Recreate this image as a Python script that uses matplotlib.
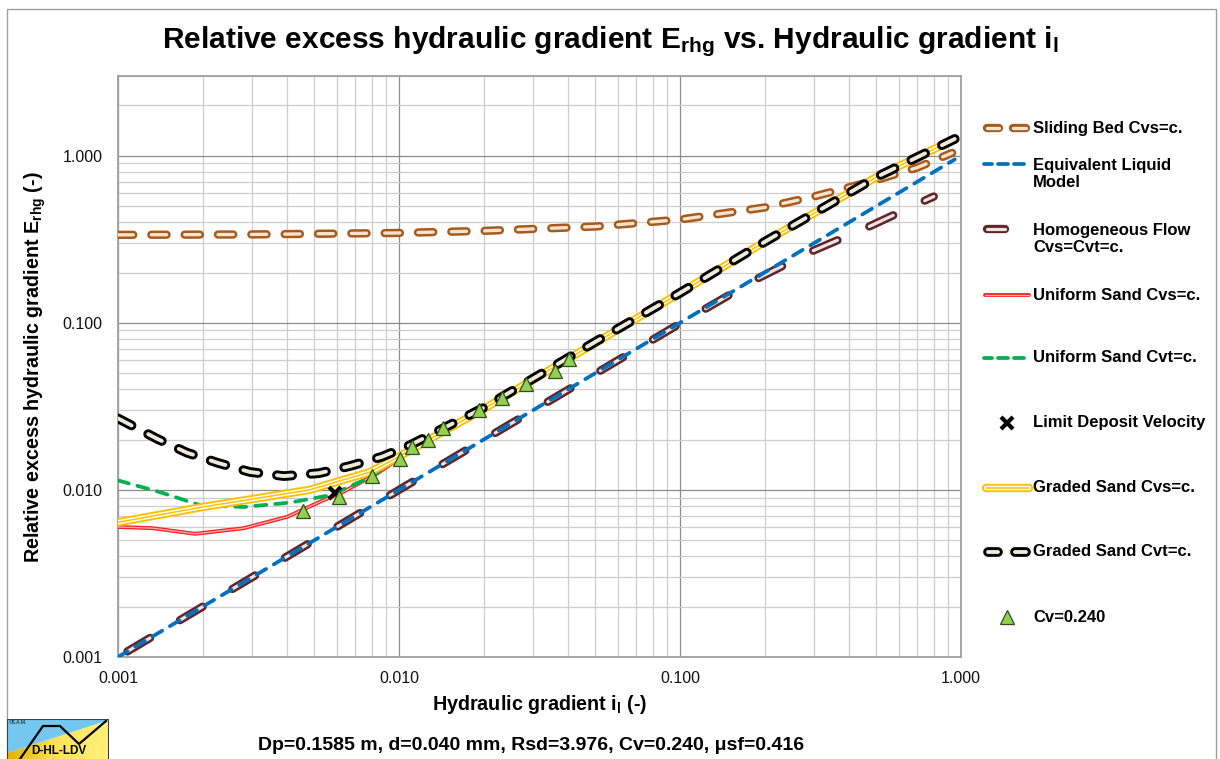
import numpy as np
import matplotlib
matplotlib.use("Agg")
import matplotlib.pyplot as plt
from matplotlib.patches import Rectangle, Polygon
from matplotlib.ticker import LogLocator, FixedLocator, FuncFormatter, NullFormatter
from matplotlib.colors import LinearSegmentedColormap

plt.rcParams['font.family'] = ['Liberation Sans', 'DejaVu Sans']
plt.rcParams['mathtext.fontset'] = 'custom'
plt.rcParams['mathtext.rm'] = 'Liberation Sans:bold'
plt.rcParams['mathtext.it'] = 'Liberation Sans:bold'
plt.rcParams['mathtext.bf'] = 'Liberation Sans:bold'
plt.rcParams['lines.scale_dashes'] = False

# ---------------- data ----------------
il_sb = [0.001, 0.003, 0.01, 0.02, 0.05, 0.1, 0.2, 0.3, 0.5, 0.7, 0.93]
erhg_sb = [0.336, 0.338, 0.345, 0.355, 0.377, 0.415, 0.49, 0.57, 0.715, 0.85, 1.04]

il_elm = [0.001, 0.95]
erhg_elm = [0.001, 0.95]

il_hom = [0.00108, 0.01, 0.1, 0.19, 0.29, 0.46, 0.71, 0.80]
erhg_hom = [0.00108, 0.01, 0.099, 0.185, 0.265, 0.37, 0.52, 0.57]

il_ucvs = [0.001, 0.00133, 0.00188, 0.0028, 0.0040, 0.0054, 0.0063, 0.0084, 0.0101,
           0.02, 0.05, 0.1, 0.2, 0.5, 0.95]
erhg_ucvs = [0.0060, 0.0059, 0.00546, 0.0059, 0.0069, 0.0087, 0.0097, 0.0126, 0.0156,
             0.0303, 0.076, 0.151, 0.305, 0.745, 1.26]

il_ucvt = [0.001, 0.00141, 0.00196, 0.0028, 0.0041, 0.0057, 0.0079, 0.0101,
           0.02, 0.05, 0.1, 0.2, 0.5, 0.95]
erhg_ucvt = [0.0114, 0.0097, 0.0081, 0.0079, 0.0084, 0.0093, 0.0119, 0.0158,
             0.0303, 0.076, 0.151, 0.305, 0.745, 1.26]

il_ldv = [0.0059]
erhg_ldv = [0.0096]

il_gcvs = [0.001, 0.002, 0.0048, 0.0079, 0.0101, 0.02, 0.05, 0.1, 0.2, 0.5, 0.95]
erhg_gcvs = [0.0064, 0.0079, 0.0100, 0.0128, 0.0160, 0.0305, 0.076, 0.151, 0.305, 0.745, 1.26]

il_gcvt = [0.001, 0.00138, 0.00176, 0.00227, 0.00295, 0.0039, 0.0052, 0.0067, 0.0087,
           0.011, 0.02, 0.05, 0.1, 0.2, 0.5, 0.95]
erhg_gcvt = [0.0268, 0.0202, 0.0167, 0.0145, 0.0128, 0.0121, 0.0126, 0.0139, 0.0158,
             0.0186, 0.031, 0.077, 0.151, 0.305, 0.745, 1.26]

il_cv = [0.00456, 0.00612, 0.00803, 0.0101, 0.0111, 0.0127, 0.0144, 0.0192, 0.0233,
         0.0284, 0.0360, 0.0404]
erhg_cv = [0.0075, 0.0091, 0.0121, 0.0153, 0.0181, 0.0199, 0.0235, 0.0301, 0.0356,
           0.0431, 0.0516, 0.0608]

x_ticks = [0.001, 0.01, 0.1, 1.0]
y_ticks = [0.001, 0.01, 0.1, 1.0]

legend_labels = ["Sliding Bed Cvs=c.", "Equivalent Liquid\nModel", "Homogeneous Flow\nCvs=Cvt=c.",
                 "Uniform Sand Cvs=c.", "Uniform Sand Cvt=c.", "Limit Deposit Velocity",
                 "Graded Sand Cvs=c.", "Graded Sand Cvt=c.", "Cv=0.240"]
title_txt = r"Relative excess hydraulic gradient E$_{\mathrm{rhg}}$ vs. Hydraulic gradient i$_{\mathrm{l}}$"
xlabel_txt = r"Hydraulic gradient i$_{\mathrm{l}}$ (-)"
ylabel_txt = r"Relative excess hydraulic gradient E$_{\mathrm{rhg}}$ (-)"
sub_txt = "Dp=0.1585 m, d=0.040 mm, Rsd=3.976, Cv=0.240, \u03bcsf=0.416"

# ---------------- styles ----------------
STY = {
    'sb': dict(layers=[('#A85A1C', 6.0), ('#F6E4CF', 2.4)], dashes=(11.0, 13.0)),
    'elm': dict(layers=[('#0070C0', 2.7)], dashes=(8.0, 6.5)),
    'hom': dict(layers=[('#5E2626', 6.0), ('#EFE2E6', 2.3)], dashes=(19, 25)),
    'ucvs': dict(layers=[('#FF2020', 2.8), ('#FFB4B4', 0.9)], dashes=None),
    'ucvt': dict(layers=[('#00B050', 2.7)], dashes=(8.0, 6.5)),
    'gcvs': dict(layers=[('#FFC000', 6.0), ('#FFFFFF', 3.2), ('#FFC000', 1.1)], dashes=None),
    'gcvt': dict(layers=[('#000000', 7.0), ('#EEEAD8', 2.8)], dashes=(11, 13.5)),
}


def draw(ax, x, y, key, z):
    s = STY[key]
    for i, (c, lw) in enumerate(s['layers']):
        ln, = ax.plot(x, y, color=c, lw=lw, zorder=z + i * 0.01,
                      solid_capstyle='round', dash_capstyle='round',
                      solid_joinstyle='round', dash_joinstyle='round')
        if s['dashes'] is not None:
            ln.set_dashes(s['dashes'])


W, H = 1220, 759
fig = plt.figure(figsize=(W / 100, H / 100), dpi=100)
fig.patch.set_facecolor('white')

# figure border
fig.add_artist(Rectangle((7 / W, -0.1), 1209 / W, 0.1 + 1 - 9 / H, transform=fig.transFigure,
                         fill=False, edgecolor='#A0A0A0', lw=1.0, zorder=0))

ax = fig.add_axes([118 / W, 1 - 657 / H, (961 - 118) / W, (657 - 76) / H])
ax.set_xscale('log')
ax.set_yscale('log')
ax.set_xlim(0.001, 1.0)
ax.set_ylim(0.001, 3.0)

ax.xaxis.set_major_locator(FixedLocator(x_ticks))
ax.yaxis.set_major_locator(FixedLocator(y_ticks))
ax.xaxis.set_minor_locator(LogLocator(base=10, subs=np.arange(2, 10), numticks=20))
ax.yaxis.set_minor_locator(LogLocator(base=10, subs=np.arange(2, 10), numticks=20))
fmt = FuncFormatter(lambda v, p: f"{v:.3f}")
ax.xaxis.set_major_formatter(fmt)
ax.yaxis.set_major_formatter(fmt)
ax.xaxis.set_minor_formatter(NullFormatter())
ax.yaxis.set_minor_formatter(NullFormatter())
ax.tick_params(which='both', length=0, labelsize=11.5, labelcolor='#111111')
ax.tick_params(axis='x', pad=10)
ax.tick_params(axis='y', pad=11)
ax.grid(True, which='major', color='#8C8C8C', lw=0.9)
ax.grid(True, which='minor', color='#CDCDCD', lw=0.9)
ax.set_axisbelow(True)
for sp in ax.spines.values():
    sp.set_color('#A0A0A0')
    sp.set_linewidth(1.3)

draw(ax, il_sb, erhg_sb, 'sb', 3)
draw(ax, il_hom, erhg_hom, 'hom', 3.5)
draw(ax, il_elm, erhg_elm, 'elm', 3.8)
draw(ax, il_ucvs, erhg_ucvs, 'ucvs', 4)
draw(ax, il_ucvt, erhg_ucvt, 'ucvt', 4.2)
draw(ax, il_gcvs, erhg_gcvs, 'gcvs', 4.5)
draw(ax, il_gcvt, erhg_gcvt, 'gcvt', 5)
ax.plot(il_ldv, erhg_ldv, ls='none', marker='x', ms=8, mew=3.0, color='black', zorder=6)
ax.plot(il_cv, erhg_cv, ls='none', marker='^', ms=9.5, mfc='#92D050', mec='#2F4F1A', mew=0.9, zorder=7)

# texts
fig.text(0.5, 1 - 42 / H, title_txt, ha='center', va='center', fontsize=21.5, fontweight='bold')
fig.text(540 / W, 1 - 704 / H, xlabel_txt, ha='center', va='center', fontsize=14.2, fontweight='bold')
fig.text(35 / W, 1 - 367 / H, ylabel_txt, ha='center', va='center', rotation=90, fontsize=14.2,
         fontweight='bold')
fig.text(258 / W, 1 - 745 / H, sub_txt, ha='left', va='center', fontsize=14, fontweight='bold')

# legend (pixel coordinate overlay)
lg = fig.add_axes([0, 0, 1, 1])
lg.set_xlim(0, W)
lg.set_ylim(H, 0)
lg.set_axis_off()
lg.patch.set_visible(False)

leg_y = [128, 174, 239, 295, 358, 423, 488, 552, 617]
handle_y = [128, 164, 229, 295, 358, 423, 488, 552, 617]
keys = ['sb', 'elm', 'hom', 'ucvs', 'ucvt', None, 'gcvs', 'gcvt', None]
seg_map = {
    'sb': [(987, 999), (1013, 1026)],
    'gcvt': [(988, 998), (1015, 1026)],
    'hom': [(987, 1005)],
    'elm': [(984, 992), (998, 1008), (1014, 1024)],
    'ucvt': [(984, 992), (998, 1008), (1014, 1024)],
    'ucvs': [(985, 1029)],
    'gcvs': [(986, 1029)],
}
for lab, ty, hy, k in zip(legend_labels, leg_y, handle_y, keys):
    lg.text(1033, ty, lab, ha='left', va='center', fontsize=12, fontweight='bold',
            linespacing=1.2)
    if k is not None:
        s = STY[k]
        for a, b in seg_map[k]:
            for c, lw in s['layers']:
                lg.plot([a, b], [hy, hy], color=c, lw=lw, solid_capstyle='round')
lg.plot([1007], [423], ls='none', marker='x', ms=8, mew=3.0, color='black')
lg.plot([1007], [617], ls='none', marker='^', ms=9.5, mfc='#92D050', mec='#2F4F1A', mew=0.9)

# logo
lx0, lx1, ly0, ly1 = 7, 109, 719, 775
logo = fig.add_axes([lx0 / W, 1 - ly1 / H, (lx1 - lx0) / W, (ly1 - ly0) / H])
logo.set_xlim(lx0, lx1)
logo.set_ylim(ly1, ly0)
logo.set_axis_off()
grad = np.linspace(0, 1, 256).reshape(1, -1)
cm = LinearSegmentedColormap.from_list('y', ['#E2B400', '#FFE35A', '#FFF07A'])
im = logo.imshow(grad, cmap=cm, extent=[lx0, lx1, ly1, ly0], aspect='auto', zorder=1)
ypoly = Polygon([(lx0, 753), (lx1, 720), (lx1, ly1), (lx0, ly1)], closed=True,
                transform=logo.transData, facecolor='none', edgecolor='none')
logo.add_patch(ypoly)
im.set_clip_path(ypoly)
logo.add_patch(Polygon([(lx0, ly0), (lx1, ly0), (lx1, 720), (lx0, 753)], closed=True,
                       facecolor='#74C7EE', edgecolor='none', zorder=1))
logo.plot([20, 43, 60, 79, 106], [759, 726, 726, 744, 721], color='black', lw=1.6, zorder=3)
logo.text(59, 751.5, "D-HL-LDV", ha='center', va='center', fontsize=8.5, fontweight='bold', zorder=4)
logo.text(9, 723, "\u00a9S.A.M.", ha='left', va='center', fontsize=3.5, zorder=4)
logo.add_patch(Rectangle((lx0, ly0), lx1 - lx0, ly1 - ly0, fill=False, edgecolor='#404040',
                         lw=1.5, zorder=5))

fig.savefig('out.png', dpi=100, facecolor='white')
